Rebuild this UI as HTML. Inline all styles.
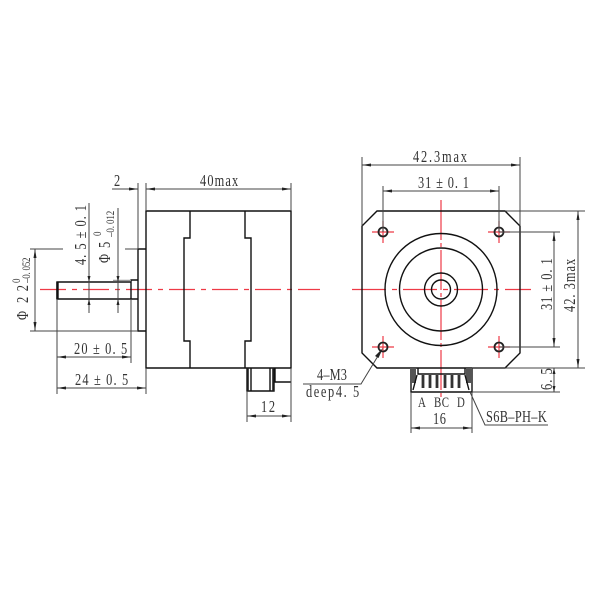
<!DOCTYPE html>
<html><head><meta charset="utf-8"><style>
html,body{margin:0;padding:0;background:#fff}
svg{display:block;filter:blur(.3px)}
text{font-family:"Liberation Serif",serif;font-size:16.5px;fill:#333}
.s{font-size:12px}
.m{font-size:14.5px}
.b{stroke:#111;stroke-width:1.4;fill:none}
.d{stroke:#444;stroke-width:1;fill:none}
.r{stroke:#ee3a46;stroke-width:1.2;fill:none}
.a{fill:#222;stroke:none}
</style></head><body>
<svg width="600" height="600" viewBox="0 0 600 600" xmlns="http://www.w3.org/2000/svg">
<!-- centerlines -->
<path class="r" d="M40 289.500H320" stroke-dasharray="26 6 5 6"/>
<path class="r" d="M352 289.500H531" stroke-dasharray="34 6 5 6"/>
<path class="r" d="M441 200V397" stroke-dasharray="40 3 4 3"/>
<path class="r" d="M372 232H394M383 221V243M488 232H510M499 221V243M372 347H394M383 336V358M488 347H510M499 336V358"/>

<!-- side view -->
<path class="b" d="M146 211H291V368H146Z"/>
<path class="b" d="M190 211V238H184V341H190V368M245 211V238H251V341H245V368"/>
<path class="b" d="M146 249H138V331H146"/>
<path class="b" d="M138 280H131V299M131 282H57V299H138"/>
<path d="M57.500 282V299" stroke="#111" stroke-width="2.4"/>
<path d="M113 280.500H131" stroke="#999" stroke-width="1.4"/>
<path class="b" d="M247 368V391H274V368M251 368V391M270 368V391M275 368V382H291"/>
<path d="M273 368V391M248 368V391" stroke="#222" stroke-width="1.6"/>

<!-- side dims -->
<path class="d" d="M112 189H138M146 189H291M138 183V249M146 183V211M291 183V211"/>
<path class="a" d="M138 189l-9-1.500v3zM146 189l9-1.500v3zM291 189l-9-1.500v3z"/>
<path class="d" d="M30 249H63M125 249H138M30 331H138M35 249V331"/>
<path class="a" d="M35 249l-1.500 9h3zM35 331l-1.500-9h3z"/>
<path class="d" d="M89 203V313M118 208V313"/>
<path class="a" d="M89 282l-1.500-6h3zM89 299l-1.500 6h3zM118 282l-1.500-6h3zM118 299l-1.500 6h3z"/>
<path class="d" d="M57 299V394M131 299V363M146 368V394M57 357H131M57 388H146"/>
<path class="a" d="M57 357l9-1.500v3zM131 357l-9-1.500v3zM57 388l9-1.500v3zM146 388l-9-1.500v3z"/>
<path class="d" d="M247 391V422M291 368V422M247 416H291"/>
<path class="a" d="M247 416l9-1.500v3zM291 416l-9-1.500v3z"/>

<!-- front view -->
<path class="b" d="M377 211H505L520 226V353L505 368H377L362 353V226Z"/>
<circle class="b" cx="441" cy="289.500" r="56"/>
<circle class="b" cx="441" cy="289.500" r="41.500"/>
<circle class="b" cx="441" cy="289.500" r="16.500"/>
<circle class="b" cx="441" cy="289.500" r="9.500"/>
<g fill="none" stroke="#222" stroke-width="1.800">
<circle cx="383" cy="232" r="4.500"/><circle cx="499" cy="232" r="4.500"/>
<circle cx="383" cy="347" r="4.500"/><circle cx="499" cy="347" r="4.500"/>
</g>

<!-- connector -->
<path class="b" d="M411 368V392H472V368"/>
<path d="M410 368h6v15h-6zM466 368h6v15h-6z" fill="#555"/>
<path class="b" d="M418 368V374H465V368M417 375L413 390M465 375L469 390"/>
<path d="M423 375v13M430 375v13M437 375v13M445 375v13M452 375v13M459 375v13" stroke="#333" stroke-width="2.800" fill="none"/>

<!-- front dims -->
<path class="d" d="M362 157V226M520 157V226M362 165H520M383 186V232M499 186V232M383 191H499"/>
<path class="a" d="M362 165l9-1.500v3zM520 165l-9-1.500v3zM383 191l9-1.500v3zM499 191l-9-1.500v3z"/>
<path class="d" d="M505 211H585M499 232H560M499 347H560M472 368H585M472 392H560M554 232V347M554 368V392M578 211V368"/>
<path class="a" d="M554 232l-1.500 9h3zM554 347l-1.500-9h3zM578 211l-1.500 9h3zM578 368l-1.500-9h3zM554 368l-1.500 6h3zM554 392l-1.500-6h3z"/>
<path class="d" d="M411 392V433M472 392V433M411 428H472"/>
<path class="a" d="M411 428l9-1.500v3zM472 428l-9-1.500v3z"/>
<path class="d" d="M303 384H361L381 351M470 392L485 425H548"/>
<path class="a" d="M383 348L375 356L378.500 358Z"/>

<!-- horizontal labels -->
<text transform="translate(114 186) scale(.75 1)">2</text>
<text transform="translate(200 186) scale(.75 1)" textLength="51">40max</text>
<text transform="translate(413 162) scale(.75 1)" textLength="72">42.3max</text>
<text transform="translate(418 188) scale(.75 1)" textLength="68">31 ± 0. 1</text>
<text transform="translate(74 354) scale(.75 1)" textLength="71">20 ± 0. 5</text>
<text transform="translate(75 385) scale(.75 1)" textLength="71">24 ± 0. 5</text>
<text transform="translate(261 412) scale(.75 1)" textLength="18.700">12</text>
<text transform="translate(433 424) scale(.75 1)" textLength="17.300">16</text>
<text class="m" transform="translate(418 407) scale(.75 1)">A</text>
<text class="m" transform="translate(434 407) scale(.75 1)" textLength="20">BC</text>
<text class="m" transform="translate(457 407) scale(.75 1)">D</text>
<text transform="translate(486 422) scale(.75 1)" textLength="81">S6B–PH–K</text>
<text transform="translate(317 380) scale(.75 1)" textLength="40">4–M3</text>
<text transform="translate(306 397) scale(.75 1)" textLength="71">deep4. 5</text>

<!-- rotated labels -->
<text transform="translate(28 320) rotate(-90) scale(.75 1)">Φ</text>
<text transform="translate(28 303) rotate(-90) scale(.75 1)" textLength="24">22</text>
<text class="s" transform="translate(20 283) rotate(-90) scale(.75 1)">0</text>
<text class="s" transform="translate(30 283) rotate(-90) scale(.75 1)" textLength="34">–0. 052</text>
<text transform="translate(86 265) rotate(-90) scale(.75 1)" textLength="80">4. 5 ± 0. 1</text>
<text transform="translate(110 263) rotate(-90) scale(.75 1)">Φ</text>
<text transform="translate(110 248) rotate(-90) scale(.75 1)">5</text>
<text class="s" transform="translate(101 236) rotate(-90) scale(.75 1)">0</text>
<text class="s" transform="translate(114 237) rotate(-90) scale(.75 1)" textLength="35">–0. 012</text>
<text transform="translate(552 310) rotate(-90) scale(.75 1)" textLength="69">31 ± 0. 1</text>
<text transform="translate(575 312) rotate(-90) scale(.75 1)" textLength="71">42. 3max</text>
<text transform="translate(552 390) rotate(-90) scale(.75 1)" textLength="29">6. 5</text>
</svg>
</body></html>
